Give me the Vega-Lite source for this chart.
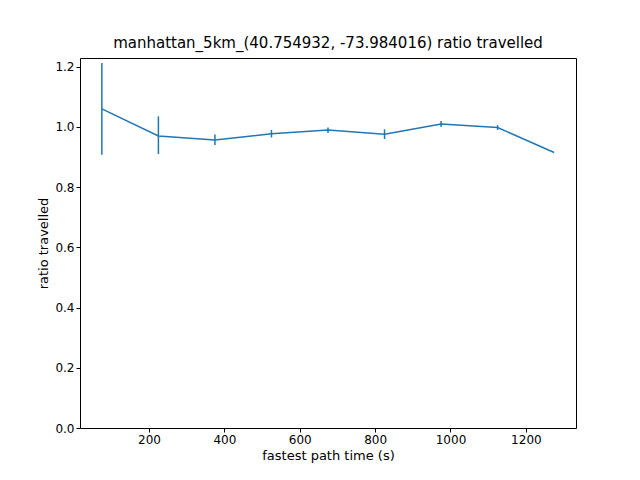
{
  "$schema": "https://vega.github.io/schema/vega-lite/v6.json",
  "width": 496,
  "height": 370,
  "autosize": "none",
  "padding": {"left": 80, "top": 58, "right": 64, "bottom": 52},
  "background": "white",
  "title": {"text": "manhattan_5km_(40.754932, -73.984016) ratio travelled", "fontSize": 15, "font": "DejaVu Sans", "fontWeight": "normal", "offset": 7},
  "data": {
    "values": [
      {"t": 75, "r": 1.06, "lo": 0.908, "hi": 1.212},
      {"t": 225, "r": 0.97, "lo": 0.91, "hi": 1.035},
      {"t": 375, "r": 0.957, "lo": 0.94, "hi": 0.975},
      {"t": 525, "r": 0.977, "lo": 0.965, "hi": 0.99},
      {"t": 675, "r": 0.99, "lo": 0.98, "hi": 0.998},
      {"t": 825, "r": 0.976, "lo": 0.96, "hi": 0.992},
      {"t": 975, "r": 1.01, "lo": 1.0, "hi": 1.02},
      {"t": 1125, "r": 0.998, "lo": 0.99, "hi": 1.006},
      {"t": 1275, "r": 0.915, "lo": 0.915, "hi": 0.915}
    ]
  },
  "encoding": {
    "x": {"field": "t", "type": "quantitative", "title": "fastest path time (s)",
      "scale": {"domain": [17, 1333], "nice": false, "zero": false},
      "axis": {"values": [200, 400, 600, 800, 1000, 1200], "format": "d"}},
    "y": {"field": "r", "type": "quantitative", "title": "ratio travelled",
      "scale": {"domain": [0, 1.229], "nice": false},
      "axis": {"values": [0, 0.2, 0.4, 0.6, 0.8, 1.0, 1.2], "format": ".1f"}}
  },
  "layer": [
    {"mark": {"type": "line", "color": "#1f77b4", "strokeWidth": 1.5}},
    {"mark": {"type": "rule", "color": "#1f77b4", "strokeWidth": 1.5},
      "encoding": {"y": {"field": "lo", "type": "quantitative"}, "y2": {"field": "hi"}}}
  ],
  "config": {
    "view": {"stroke": "black", "strokeWidth": 1},
    "axis": {"grid": false, "domain": false, "tickColor": "black", "tickSize": 4,
      "labelFont": "DejaVu Sans", "labelFontSize": 12, "labelColor": "black",
      "titleFont": "DejaVu Sans", "titleFontSize": 13, "titleFontWeight": "normal", "titleColor": "black"}
  }
}
